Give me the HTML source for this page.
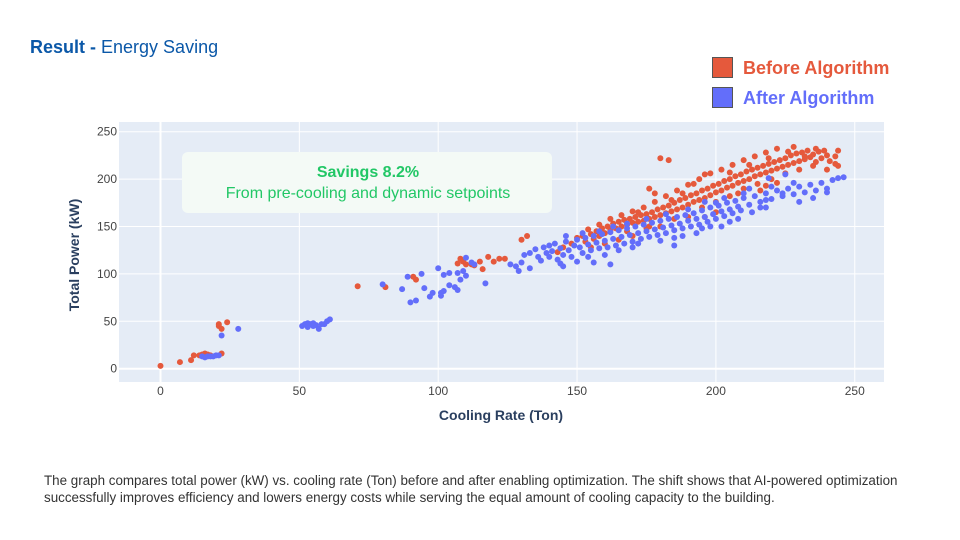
<!DOCTYPE html>
<html><head><meta charset="utf-8"><style>
body{margin:0;width:960px;height:540px;background:#fff;font-family:"Liberation Sans",sans-serif;overflow:hidden;position:relative}
.t{position:absolute;white-space:nowrap}
</style></head><body>
<div class="t" style="left:30px;top:37px;font-size:18px;color:#0b58a8"><b>Result -</b> Energy Saving</div>
<div>
<div class="t" style="left:712px;top:57px;font-size:18px;font-weight:bold;color:#e5593c"><span style="display:inline-block;width:19px;height:19px;background:#e5593c;border:1px solid #555;vertical-align:-4px;margin-right:10px"></span>Before Algorithm</div>
<div class="t" style="left:712px;top:87px;font-size:18px;font-weight:bold;color:#636efa"><span style="display:inline-block;width:19px;height:19px;background:#636efa;border:1px solid #555;vertical-align:-4px;margin-right:10px"></span>After Algorithm</div>
</div>
<svg id="chart" width="960" height="540" style="position:absolute;left:0;top:0" font-family="Liberation Sans, sans-serif"></svg>
<div class="t" style="left:44px;top:472px;font-size:13.4px;line-height:17px;color:#333">The graph compares total power (kW) vs. cooling rate (Ton) before and after enabling optimization. The shift shows that AI-powered optimization<br>successfully improves efficiency and lowers energy costs while serving the equal amount of cooling capacity to the building.</div>
<script>
const xTicks=[0,50,100,150,200,250];
const yTicks=[0,50,100,150,200,250];
const beforeX=[0,7,11,12,14,15,16,17,18,22,21,22,24,21,71,81,91,92,107,108,109,110,112,113,115,116,118,120,122,124,
130,132,143,145,148,150,152,153,155,156,157,158,159,160,161,162,163,164,165,166,167,168,169,170,171,172,173,174,175,176,177,178,179,180,181,182,183,184,185,186,187,188,189,190,191,192,193,194,195,196,197,198,199,200,201,202,203,204,205,206,207,208,209,210,211,212,213,214,215,216,217,218,219,220,221,222,223,224,225,226,227,228,229,230,231,232,233,234,235,236,237,238,240,241,243,244,244,236,228,222,218,214,210,206,202,198,194,190,186,182,178,174,170,166,162,158,154,180,185,190,195,200,205,210,215,220,225,230,235,175,170,165,160,155,183,196,192,188,184,176,168,172,205,212,219,226,232,239,243,216,208,200,196,176,178,240,218,222,180];
const beforeY=[3,7,9,14,14,15,16,15,14,16,45,42,49,47,87,86,97,94,111,116,113,110,110,109,113,105,118,113,116,116,
136,140,123,128,132,138,140,134,142,137,145,140,148,143,150,146,153,148,155,150,157,152,158,154,160,155,162,156,163,158,165,160,168,162,170,164,172,166,175,168,178,170,180,173,183,176,185,178,188,180,190,183,193,186,195,188,198,191,200,193,203,196,205,198,208,200,210,203,212,205,214,207,216,209,218,211,220,213,222,215,225,217,227,219,228,221,230,223,226,218,229,222,225,219,224,214,230,232,234,232,228,224,220,215,210,206,200,194,188,182,176,170,166,162,158,152,147,150,158,160,170,176,182,190,195,200,206,210,214,148,140,136,132,128,220,205,195,185,178,150,145,165,207,215,222,229,224,230,216,188,185,165,160,190,185,210,193,196,222];
const afterX=[15,16,17,18,19,20,21,22,28,51,52,53,54,55,56,57,58,59,60,61,53,55,80,87,90,92,89,94,95,97,98,100,101,101,102,102,104,104,106,107,107,108,109,110,110,112,113,117,
126,128,130,131,133,135,136,138,139,140,141,142,143,144,145,146,147,148,149,150,151,152,153,154,155,156,157,158,159,160,161,162,163,164,165,166,167,168,169,170,171,172,173,174,175,176,177,178,179,180,181,182,183,184,185,186,187,188,189,190,191,192,193,194,195,196,197,198,199,200,201,202,203,204,205,206,207,208,209,210,212,214,216,218,220,222,224,226,228,230,232,234,236,238,240,242,244,246,230,224,218,213,205,198,188,180,170,160,150,140,133,129,145,156,165,172,185,195,158,152,146,163,168,175,182,190,200,210,220,228,235,240,225,219,212,203,196,162,154,137,144,185,193,202,208,216,218];
const afterY=[13,12,13,13,13,14,14,35,42,45,47,48,47,48,46,42,47,47,50,52,44,45,89,84,70,72,97,100,85,76,80,106,77,80,99,82,101,88,86,101,83,94,103,117,98,112,110,90,
110,108,112,120,122,126,118,128,122,130,124,132,115,127,120,134,125,118,130,136,128,122,138,131,125,140,133,127,142,135,128,144,137,130,146,139,132,148,141,134,150,143,137,152,145,139,154,147,141,156,149,143,158,151,146,160,153,148,162,156,150,164,158,152,167,160,155,170,163,158,172,166,161,175,168,164,177,171,167,180,173,182,176,185,179,188,182,190,184,192,186,194,188,196,190,199,201,202,176,185,178,165,155,150,140,135,128,120,113,118,106,103,108,112,125,132,138,148,145,143,140,150,153,158,163,168,175,185,192,196,180,186,205,201,190,180,176,110,118,114,111,130,143,150,158,170,170];
const NS='http://www.w3.org/2000/svg';
const svg=document.getElementById('chart');
const L=119,R=884,T=122,B=382;
const X=v=>160.5+v*2.777;
const Y=v=>368.7-v*0.948;
function mk(tag,attrs,parent){const e=document.createElementNS(NS,tag);for(const k in attrs)e.setAttribute(k,attrs[k]);(parent||svg).appendChild(e);return e;}
const bg=mk('rect',{x:L,y:T,width:R-L,height:B-T,fill:'#e5ecf6'});


xTicks.forEach(t=>{
 const g=mk('line',{x1:X(t),x2:X(t),y1:T,y2:B,stroke:'#fff','stroke-width':t===0?2:1});
 
 
 const tx=mk('text',{x:X(t),y:395,'text-anchor':'middle','font-size':12,fill:'#444'});tx.textContent=t;
 
 
});
yTicks.forEach(t=>{
 const g=mk('line',{x1:L,x2:R,y1:Y(t),y2:Y(t),stroke:'#fff','stroke-width':t===0?2:1});
 
 
 const tx=mk('text',{x:117,y:Y(t)+4,'text-anchor':'end','font-size':12,fill:'#444'});tx.textContent=t;
 
 
});
const xt=mk('text',{x:501,y:420,'text-anchor':'middle','font-size':14,'font-weight':'bold',fill:'#2a3f5f'});xt.textContent='Cooling Rate (Ton)';


const yt=mk('text',{x:0,y:0,transform:'translate(79,255) rotate(-90)','text-anchor':'middle','font-size':14,'font-weight':'bold',fill:'#2a3f5f'});yt.textContent='Total Power (kW)';


function series(xs,ys,color,name){
 const g=mk('g',{});
 
 
 xs.forEach((x,i)=>{const c=mk('circle',{cx:X(x),cy:Y(ys[i]),r:3,fill:color},g);
 
 });
}
series(beforeX,beforeY,'#e5593c','before-series');
series(afterX,afterY,'#636efa','after-series');
const box=mk('rect',{x:182,y:152,width:370,height:61,rx:6,fill:'#f4faf6'});


const a1=mk('text',{x:368,y:177,'text-anchor':'middle','font-size':16,'font-weight':'bold',fill:'#22c766'});a1.textContent='Savings 8.2%';


const a2=mk('text',{x:368,y:198,'text-anchor':'middle','font-size':16,fill:'#22c766'});a2.textContent='From pre-cooling and dynamic setpoints';


</script>
</body></html>
